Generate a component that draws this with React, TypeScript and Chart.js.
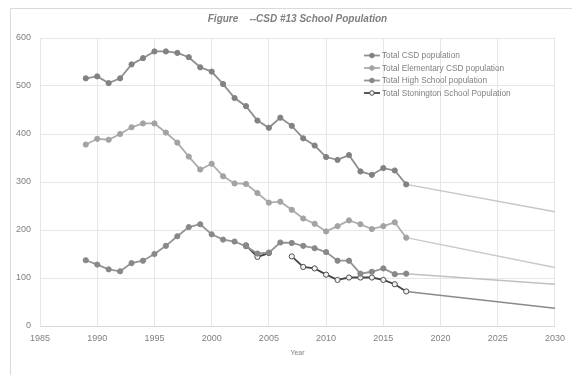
import React, { useEffect, useRef } from "react";
import { Chart, registerables } from "chart.js";

Chart.register(...registerables);

const TITLE = "Figure    --CSD #13 School Population";
const X_TITLE = "Year";

const YEARS = [
  1989, 1990, 1991, 1992, 1993, 1994, 1995, 1996, 1997, 1998,
  1999, 2000, 2001, 2002, 2003, 2004, 2005, 2006, 2007, 2008,
  2009, 2010, 2011, 2012, 2013, 2014, 2015, 2016, 2017,
];

const CSD_TOTAL = [
  516, 520, 506, 516, 545, 558, 572, 572, 569, 560,
  539, 530, 504, 475, 458, 428, 413, 434, 417, 391,
  376, 352, 346, 356, 322, 315, 329, 324, 295,
];

const ELEMENTARY = [
  378, 390, 388, 400, 414, 422, 422, 403, 382, 353,
  326, 338, 312, 297, 296, 277, 257, 259, 242, 224,
  213, 197, 208, 220, 212, 202, 208, 216, 184,
];

const HIGH_SCHOOL = [
  137, 128, 118, 114, 131, 136, 150, 167, 187, 206,
  212, 191, 180, 176, 166, 151, 153, 174, 173, 167,
  162, 154, 136, 136, 109, 113, 120, 108, 109,
];

const STONINGTON = [
  null, null, null, null, null, null, null, null, null, null,
  null, null, null, null, 168, 144, 152, null, 145, 123,
  120, 107, 96, 101, 101, 101, 96, 87, 72,
];

const PROJECTION_YEARS = [2017, 2030];
const CSD_PROJECTION = [295, 238];
const ELEMENTARY_PROJECTION = [184, 122];
const HIGH_SCHOOL_PROJECTION = [109, 87];
const STONINGTON_PROJECTION = [72, 37];

const SERIES_LABELS = [
  "Total CSD population",
  "Total Elementary CSD population",
  "Total High School population",
  "Total Stonington School Population",
];

const FONT = "'Liberation Sans', Arial, sans-serif";

function toPoints(xs: number[], ys: (number | null)[]) {
  return xs.map((x, i) => ({ x, y: ys[i] }));
}

const borderPlugin = {
  id: "excelBorder",
  beforeDraw(chart: any) {
    const { ctx, width, height } = chart;
    ctx.save();
    ctx.fillStyle = "#ffffff";
    ctx.fillRect(0, 0, width, height);
    ctx.strokeStyle = "#d9d9d9";
    ctx.lineWidth = 1;
    ctx.beginPath();
    ctx.moveTo(width, 8.5);
    ctx.lineTo(10.5, 8.5);
    ctx.lineTo(10.5, height);
    ctx.stroke();
    ctx.restore();
  },
};

const legendPlugin = {
  id: "insideLegend",
  afterDraw(chart: any) {
    const { ctx, chartArea } = chart;
    const w = chartArea.right - chartArea.left;
    const x0 = chartArea.left + w * 0.629;
    const y0 = chartArea.top + 17.5;
    const rowH = 12.5;
    ctx.save();
    ctx.font = `8.3px ${FONT}`;
    ctx.textBaseline = "middle";
    ctx.textAlign = "left";
    SERIES_LABELS.forEach((label, i) => {
      const ds = chart.data.datasets[i];
      const y = y0 + i * rowH;
      ctx.strokeStyle = ds.borderColor;
      ctx.lineWidth = ds.borderWidth;
      ctx.beginPath();
      ctx.moveTo(x0, y);
      ctx.lineTo(x0 + 16, y);
      ctx.stroke();
      ctx.beginPath();
      ctx.arc(x0 + 8, y, 2.3, 0, Math.PI * 2);
      ctx.fillStyle = ds.pointBackgroundColor;
      ctx.fill();
      ctx.strokeStyle = ds.pointBorderColor;
      ctx.lineWidth = 1;
      ctx.stroke();
      ctx.fillStyle = "#808080";
      ctx.fillText(label, x0 + 18, y + 0.5);
    });
    ctx.restore();
  },
};

export default function App() {
  const canvasRef = useRef<HTMLCanvasElement | null>(null);

  useEffect(() => {
    document.body.style.margin = "0";
    const canvas = canvasRef.current;
    if (!canvas) return;

    const mainSeries = [
      { label: SERIES_LABELS[0], data: CSD_TOTAL, line: "#8f8f8f", point: "#828282", border: "#828282" },
      { label: SERIES_LABELS[1], data: ELEMENTARY, line: "#adadad", point: "#a3a3a3", border: "#a3a3a3" },
      { label: SERIES_LABELS[2], data: HIGH_SCHOOL, line: "#959595", point: "#888888", border: "#888888" },
      { label: SERIES_LABELS[3], data: STONINGTON, line: "#454545", point: "#f2f2f2", border: "#505050" },
    ];

    const projections = [
      { data: CSD_PROJECTION, color: "#c6c6c6" },
      { data: ELEMENTARY_PROJECTION, color: "#c9c9c9" },
      { data: HIGH_SCHOOL_PROJECTION, color: "#c0c0c0" },
      { data: STONINGTON_PROJECTION, color: "#8a8a8a" },
    ];

    const datasets: any[] = [
      ...mainSeries.map((s) => ({
        label: s.label,
        data: toPoints(YEARS, s.data),
        borderColor: s.line,
        borderWidth: 1.8,
        pointRadius: 2.6,
        pointBackgroundColor: s.point,
        pointBorderColor: s.border,
        pointBorderWidth: 1,
        spanGaps: false,
        tension: 0,
      })),
      ...projections.map((p) => ({
        label: "",
        data: toPoints(PROJECTION_YEARS, p.data),
        borderColor: p.color,
        borderWidth: 1.4,
        pointRadius: 0,
        tension: 0,
      })),
    ];

    const chart = new Chart(canvas, {
      type: "line",
      data: { datasets },
      options: {
        animation: false,
        responsive: false,
        maintainAspectRatio: false,
        layout: { padding: { left: 10, right: 12, top: 0, bottom: 0 } },
        plugins: {
          legend: { display: false },
          tooltip: { enabled: false },
          title: {
            display: true,
            text: TITLE,
            fullSize: false,
            color: "#7f7f7f",
            font: { family: FONT, size: 10, weight: "bold", style: "italic" },
            padding: { top: 13, bottom: 13 },
          },
        },
        scales: {
          x: {
            type: "linear",
            min: 1985,
            max: 2030,
            afterFit: (scale: any) => {
              scale.height = 49;
            },
            ticks: {
              stepSize: 5,
              padding: 7,
              color: "#808080",
              font: { family: FONT, size: 9 },
              maxRotation: 0,
              callback: (v: any) => String(v),
            },
            grid: { color: "#e6e6e6", lineWidth: 1, drawTicks: false },
            border: { color: "#d9d9d9" },
            title: {
              display: true,
              text: X_TITLE,
              color: "#808080",
              font: { family: FONT, size: 7 },
              padding: { top: 2, bottom: 18 },
            },
          },
          y: {
            min: 0,
            max: 600,
            afterFit: (scale: any) => {
              scale.width = 30;
            },
            ticks: {
              stepSize: 100,
              padding: 9,
              color: "#808080",
              font: { family: FONT, size: 9 },
            },
            grid: { color: "#e6e6e6", lineWidth: 1, drawTicks: false },
            border: { display: false },
          },
        },
      },
      plugins: [borderPlugin, legendPlugin],
    });

    return () => chart.destroy();
  }, []);

  return (
    <div style={{ position: "absolute", left: 0, top: 0, width: 572, height: 375 }}>
      <canvas ref={canvasRef} width={572} height={375} style={{ display: "block" }} />
    </div>
  );
}
